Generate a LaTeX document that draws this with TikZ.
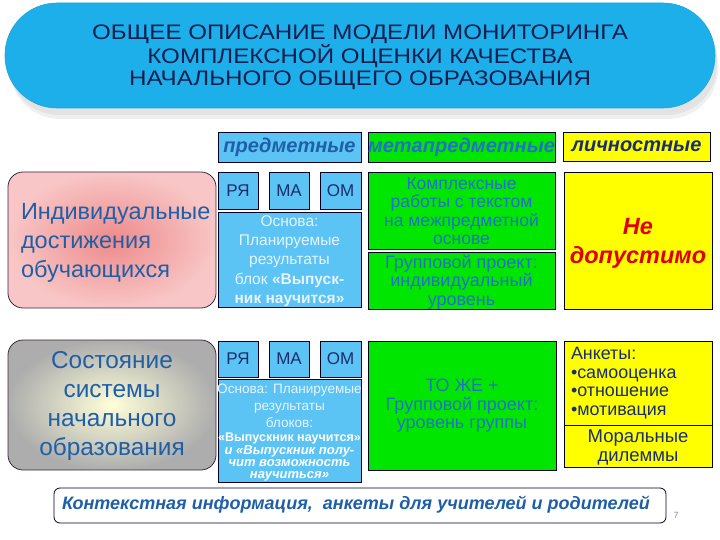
\documentclass[tikz,border=0pt]{standalone}
\usepackage{fontspec}
\setmainfont{Liberation Sans}
\newfontfamily\widefont[FakeStretch=1.15]{Liberation Sans}
\usetikzlibrary{shadings}
\definecolor{titlebg}{HTML}{1CAFE9}
\definecolor{titletx}{HTML}{141E50}
\definecolor{lblue}{HTML}{5CC3F5}
\definecolor{grn}{HTML}{00E600}
\definecolor{yel}{HTML}{FFFF00}
\definecolor{navy}{HTML}{1A2E6E}
\definecolor{tblue}{HTML}{1F5FA8}
\definecolor{gblue}{HTML}{2272C4}
\definecolor{pale}{HTML}{E6F4FF}
\definecolor{redtxt}{HTML}{E00000}
\definecolor{pinkin}{HTML}{EE8A8A}
\definecolor{pinkout}{HTML}{F8C6C6}
\definecolor{brd}{HTML}{3A2A3A}
\newcommand{\fs}[2]{\fontsize{#1}{#2}\selectfont}
\begin{document}
\begin{tikzpicture}[x=1pt,y=-1pt,
  box/.style={draw=black!85!blue, line width=0.8pt, inner sep=0pt, outer sep=0pt},
  txt/.style={inner sep=0pt, outer sep=0pt, align=center},
  hdr/.style={box, font=\fs{20}{22}\bfseries\itshape}]
\useasboundingbox (0,0) rectangle (720,540);
% title shadow
\fill[black!6, rounded corners=50pt] (10,14) rectangle (718,119);
\fill[black!11, rounded corners=50pt] (9,11) rectangle (717,115);
\node[fill=titlebg, draw=titlebg!85!teal, line width=0.6pt, rounded corners=52pt, minimum width=710pt, minimum height=105pt, inner sep=0pt] (title) at (360,55.5) {};
\node[txt, text=titletx, font=\widefont\fs{21}{22}] (titlet) at (360,57.5) {ОБЩЕЕ ОПИСАНИЕ МОДЕЛИ МОНИТОРИНГА\\КОМПЛЕКСНОЙ ОЦЕНКИ КАЧЕСТВА\\НАЧАЛЬНОГО ОБЩЕГО ОБРАЗОВАНИЯ};
% headers
\node[hdr, fill=lblue, text=tblue, minimum width=143pt, minimum height=30pt] (hp) at (289.5,147) {предметные};
\node[hdr, fill=grn, text=gblue, minimum width=187pt, minimum height=30pt] (hm) at (461.5,147) {метапредметные};
\node[hdr, fill=yel, text=navy, minimum width=147pt, minimum height=29pt] (hl) at (636.5,146.5) {личностные};
% row 1
\node[box, draw=brd, rounded corners=15pt, inner color=pinkin, outer color=pinkout, minimum width=208pt, minimum height=136pt] (ind) at (112,240) {};
\node[txt, align=left, anchor=west, text=tblue, font=\fs{23.5}{29}] (indt) at (21,243) {Индивидуальные\\достижения\\обучающихся};
\node[box, fill=lblue, text=navy, font=\fs{17}{20}, minimum width=40pt, minimum height=37pt] (ry1) at (238,190.5) {РЯ};
\node[box, fill=lblue, text=navy, font=\fs{17}{20}, minimum width=40pt, minimum height=37pt] (ma1) at (289,190.5) {МА};
\node[box, fill=lblue, text=navy, font=\fs{17}{20}, minimum width=41pt, minimum height=37pt] (om1) at (340.5,190.5) {ОМ};
\node[box, fill=lblue, minimum width=143pt, minimum height=95pt] (osn1) at (289.5,259.5) {};
\node[txt, text=pale, font=\fs{15.5}{19.2}] (osn1t) at (289.5,261) {Основа:\\Планируемые\\результаты\\блок \textbf{«Выпуск-}\\\textbf{ник научится»}};
\node[box, fill=grn, minimum width=187pt, minimum height=77pt] (g1) at (461.5,210.5) {};
\node[txt, text=gblue, font=\fs{17.5}{18.3}] (g1t) at (461.5,211) {Комплексные\\работы с текстом\\на межпредметной\\основе};
\node[box, fill=grn, minimum width=187pt, minimum height=57pt] (g2) at (461.5,280.5) {};
\node[txt, text=gblue, font=\fs{18}{18.5}] (g2t) at (461.5,282) {Групповой проект:\\индивидуальный\\уровень};
\node[box, fill=yel, minimum width=148pt, minimum height=137pt] (ne) at (638,240.5) {};
\node[txt, text=redtxt, font=\fs{23.5}{29}\bfseries\itshape] (net) at (638,243) {Не\\допустимо};
% row 2
\node[box, draw=brd, rounded corners=15pt, inner color=yellow!15!white, outer color=black!32, minimum width=208pt, minimum height=130pt] (sost) at (112,405) {};
\node[txt, text=tblue, font=\fs{24.4}{29}] (sostt) at (112,406.5) {Состояние\\системы\\начального\\образования};
\node[box, fill=lblue, text=navy, font=\fs{17}{20}, minimum width=40pt, minimum height=36pt] (ry2) at (238,359) {РЯ};
\node[box, fill=lblue, text=navy, font=\fs{17}{20}, minimum width=40pt, minimum height=36pt] (ma2) at (289,359) {МА};
\node[box, fill=lblue, text=navy, font=\fs{17}{20}, minimum width=41pt, minimum height=36pt] (om2) at (340.5,359) {ОМ};
\node[box, fill=lblue, minimum width=143pt, minimum height=103pt] (osn2) at (289.5,430.5) {};
\node[txt, text=pale, font=\fs{13.6}{17}] (osn2a) at (289.5,406) {Основа: Планируемые\\результаты\\блоков:};
\node[txt, text=white, font=\fs{12.5}{14}\bfseries] (osn2b) at (289.5,438) {«Выпускник научится»};
\node[txt, text=white, font=\fs{13}{11.8}\bfseries\itshape] (osn2c) at (289.5,463.5) {и «Выпускник полу-\\чит возможность\\научиться»};
\node[box, fill=grn, minimum width=188pt, minimum height=129pt] (g3) at (462,405.5) {};
\node[txt, text=gblue, font=\fs{18}{18.5}] (g3t) at (462,406) {ТО ЖЕ +\\Групповой проект:\\уровень группы};
\node[box, fill=yel, minimum width=148pt, minimum height=84pt] (ank) at (638,383) {};
\node[txt, align=left, anchor=west, text=navy, font=\fs{17.9}{18.5}] (ankt) at (571,383) {Анкеты:\\•самооценка\\•отношение\\•мотивация};
\node[box, fill=yel, minimum width=148pt, minimum height=42pt] (mor) at (638,446) {};
\node[txt, text=navy, font=\fs{18.5}{19}] (mort) at (638,447) {Моральные\\дилеммы};
% context
\node[box, fill=white, rounded corners=6pt, minimum width=612pt, minimum height=35pt] (ctx) at (360,505.5) {};
\node[txt, text=tblue, font=\fs{18}{20}\bfseries\itshape] (ctxt) at (356,505) {Контекстная информация,\ \ анкеты для учителей и родителей};
\node[txt, text=black!45, font=\fs{9}{10}] (pg) at (676,515) {7};
\end{tikzpicture}
\end{document}
